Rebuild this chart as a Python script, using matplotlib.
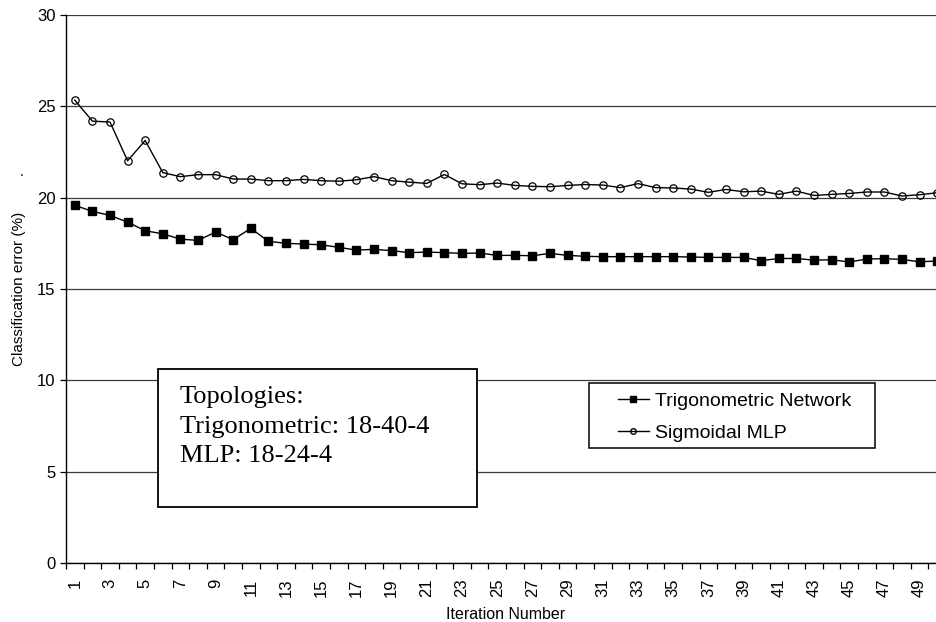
"""
Classification error vs iteration: Trigonometric Network vs Sigmoidal MLP
"""
import numpy as np, matplotlib
matplotlib.use('Agg')
import matplotlib.pyplot as plt
from matplotlib.patches import Rectangle
from matplotlib.lines import Line2D

# DATA
iterations = list(range(1, 51))
trig_err = [19.58, 19.25, 19.03, 18.66, 18.19, 18.02, 17.73, 17.66, 18.12, 17.70,
            18.32, 17.61, 17.50, 17.46, 17.42, 17.28, 17.13, 17.17, 17.10, 16.99,
            17.02, 16.99, 16.95, 16.97, 16.84, 16.84, 16.82, 16.95, 16.84, 16.79,
            16.77, 16.77, 16.77, 16.77, 16.77, 16.75, 16.73, 16.73, 16.73, 16.55,
            16.67, 16.67, 16.58, 16.60, 16.48, 16.64, 16.66, 16.62, 16.49, 16.53]
mlp_err = [25.34, 24.19, 24.14, 22.02, 23.13, 21.37, 21.15, 21.26, 21.26, 21.02,
           21.02, 20.93, 20.93, 21.00, 20.93, 20.90, 20.98, 21.15, 20.93, 20.85,
           20.78, 21.27, 20.76, 20.71, 20.80, 20.67, 20.62, 20.60, 20.67, 20.72,
           20.69, 20.55, 20.77, 20.55, 20.53, 20.47, 20.29, 20.45, 20.32, 20.36,
           20.18, 20.36, 20.12, 20.18, 20.23, 20.31, 20.31, 20.09, 20.16, 20.27]
series_names = ['Trigonometric Network', 'Sigmoidal MLP']
y_ticks = [0, 5, 10, 15, 20, 25, 30]
x_ticklabels = [str(i) for i in iterations[::2]]
box_text = 'Topologies:\nTrigonometric: 18-40-4\nMLP: 18-24-4'

W, H = 936, 622
def fx(px): return px / W
def fy(py): return 1 - py / H

plt.rcParams['font.family'] = ['Liberation Sans', 'DejaVu Sans']
fig = plt.figure(figsize=(W / 100, H / 100), dpi=100, facecolor='white')
# plot area runs past the right edge like in the original
ax = fig.add_axes([fx(66), fy(563), (946 - 66) / W, (563 - 15) / H])

ax.plot(iterations, trig_err, color='black', lw=1, marker='s', ms=5.3, mfc='black', mec='black', zorder=3)
ax.plot(iterations, mlp_err, color='black', lw=1, marker='o', ms=5.3, mfc='none', mec='black', mew=0.9, zorder=3)

ax.set_xlim(0.5, 50.5); ax.set_ylim(0, 30)
ax.set_yticks(y_ticks)
ax.set_xticks(iterations[::2]); ax.set_xticklabels(x_ticklabels, rotation=90)
ax.set_xticks(np.arange(0.5, 51, 1), minor=True)
ax.tick_params(axis='x', which='major', length=0, pad=11, labelsize=12)
ax.tick_params(axis='x', which='minor', length=4, width=0.9, direction='out')
ax.tick_params(axis='y', length=4.5, width=0.9, direction='out', labelsize=12, pad=3)
ax.grid(axis='y', color='#3a3a3a', lw=0.9)
ax.set_axisbelow(True)
for s in ['top', 'right']: ax.spines[s].set_visible(False)
for s in ['left', 'bottom']: ax.spines[s].set_linewidth(1)

ax.set_xlabel('Iteration Number', fontsize=11.5, labelpad=7)
ax.set_ylabel('Classification error (%)', fontsize=11, labelpad=8)
fig.text(fx(22), fy(172), '.', fontsize=10, ha='center', va='center')

# text box with topologies
fig.patches.append(Rectangle((fx(158), fy(507)), (477 - 158) / W, (507 - 369) / H, transform=fig.transFigure,
                             facecolor='white', edgecolor='black', lw=1.3, zorder=5))
fig.text(fx(180), fy(386), box_text, family='Liberation Serif', fontsize=19, va='top', ha='left',
         linespacing=1.45, zorder=6)

# legend box
fig.patches.append(Rectangle((fx(589), fy(448)), (875 - 589) / W, (448 - 383) / H, transform=fig.transFigure,
                             facecolor='white', edgecolor='black', lw=1.1, zorder=5))
handles = [Line2D([], [], color='black', lw=1, marker='s', ms=4, mfc='black'),
           Line2D([], [], color='black', lw=1, marker='o', ms=4, mfc='none')]
leg = fig.legend(handles, series_names, loc='upper left', bbox_to_anchor=(fx(614), fy(388)),
                 frameon=False, fontsize=14, handlelength=1.6, handletextpad=0.3, labelspacing=0.75,
                 borderpad=0.2, borderaxespad=0)
leg.set_zorder(6)

plt.savefig('out.png', dpi=100, facecolor='white')
